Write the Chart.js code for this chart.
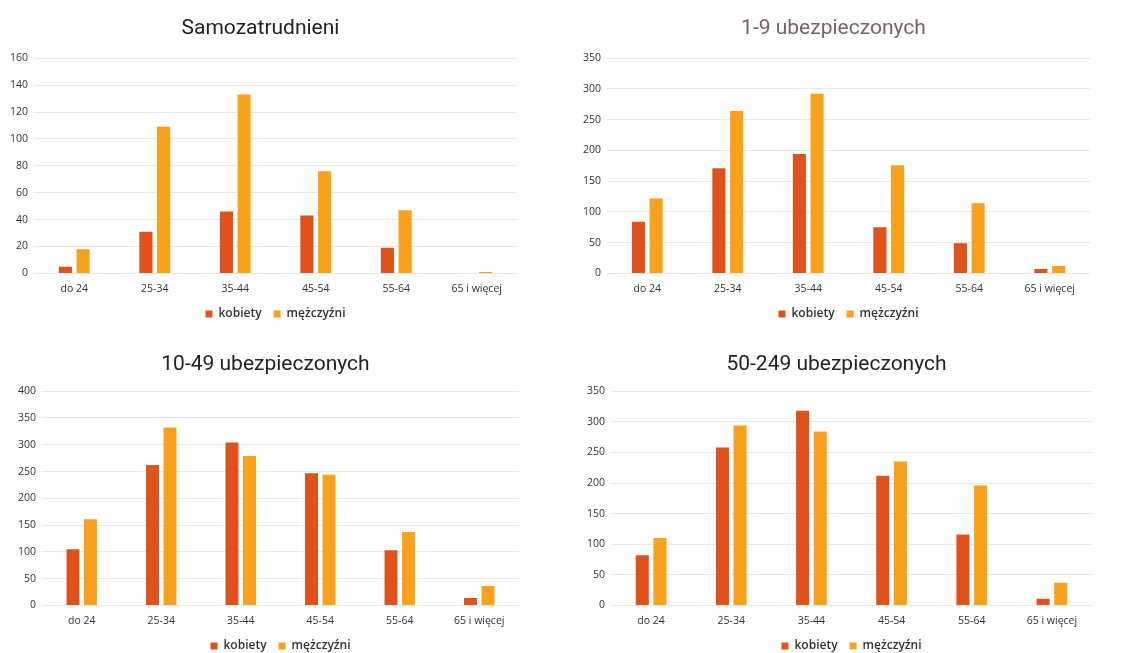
<!DOCTYPE html>
<html>
<head>
<meta charset="utf-8">
<script src="https://cdn.jsdelivr.net/npm/chart.js@4.4.0/dist/chart.umd.min.js"></script>
<style>
  html, body { margin: 0; padding: 0; background: #ffffff; }
  body { width: 1134px; height: 653px; position: relative; overflow: hidden; }
  .cell { position: absolute; }
</style>
</head>
<body>
<div class="cell" style="left:0px;top:0px;width:567px;height:330px;"><canvas id="c1"></canvas></div>
<div class="cell" style="left:567px;top:0px;width:567px;height:330px;"><canvas id="c2"></canvas></div>
<div class="cell" style="left:0px;top:333px;width:567px;height:329px;"><canvas id="c3"></canvas></div>
<div class="cell" style="left:567px;top:333px;width:567px;height:329px;"><canvas id="c4"></canvas></div>
<script>
const categories = ["do 24", "25-34", "35-44", "45-54", "55-64", "65 i więcej"];
const seriesNames = ["kobiety", "mężczyźni"];

const titles = ["Samozatrudnieni", "1-9 ubezpieczonych", "10-49 ubezpieczonych", "50-249 ubezpieczonych"];

const samoKobiety = [5, 31, 46, 43, 19, 0];
const samoMezczyzni = [18, 109, 133, 76, 47, 1];

const u19Kobiety = [84, 171, 194, 75, 49, 7];
const u19Mezczyzni = [122, 264, 292, 176, 114, 12];

const u1049Kobiety = [105, 262, 304, 247, 103, 14];
const u1049Mezczyzni = [161, 332, 279, 244, 137, 36];

const u50249Kobiety = [82, 258, 318, 212, 116, 11];
const u50249Mezczyzni = [110, 294, 284, 235, 196, 37];

const yMax = [160, 350, 400, 350];
const yStep = [20, 50, 50, 50];

const colorK = "#E0521A";
const colorM = "#F9A11B";
const titleColors = ["#222222", "#7a6262", "#222222", "#222222"];

function makeChart(id, idx, kob, mez, pad, titleBottom) {
  const ctx = document.getElementById(id);
  return new Chart(ctx, {
    type: "bar",
    data: {
      labels: categories,
      datasets: [
        { label: seriesNames[0], data: kob, backgroundColor: colorK, categoryPercentage: 0.44, barPercentage: 0.74 },
        { label: seriesNames[1], data: mez, backgroundColor: colorM, categoryPercentage: 0.44, barPercentage: 0.74 }
      ]
    },
    options: {
      responsive: true,
      maintainAspectRatio: false,
      animation: false,
      layout: { padding: pad },
      plugins: {
        title: {
          display: true,
          text: titles[idx],
          color: titleColors[idx],
          font: { family: "Roboto", size: 21, weight: "normal" },
          padding: { top: 4, bottom: titleBottom }
        },
        legend: {
          position: "bottom",
          fullSize: false,
          labels: {
            boxWidth: 7, boxHeight: 7,
            color: "#333333",
            font: { family: "Open Sans", size: 12, weight: "600" },
            padding: 12
          }
        },
        tooltip: { enabled: false }
      },
      scales: {
        x: {
          grid: { display: false },
          border: { display: false },
          ticks: { color: "#333333", font: { family: "Open Sans", size: 10.5 }, padding: 1, maxRotation: 0 }
        },
        y: {
          min: 0, max: yMax[idx],
          grid: { color: "#e8e8e8", drawTicks: false },
          border: { display: false },
          ticks: { stepSize: yStep[idx], color: "#333333", font: { family: "Open Sans", size: 10.5 }, padding: 6 }
        }
      }
    }
  });
}

makeChart("c1", 0, samoKobiety, samoMezczyzni, { left: 4, right: 50, top: 12, bottom: 0 }, 17);
makeChart("c2", 1, u19Kobiety, u19Mezczyzni, { left: 10, right: 44, top: 12, bottom: 0 }, 17);
makeChart("c3", 2, u1049Kobiety, u1049Mezczyzni, { left: 12, right: 48, top: 15, bottom: 0 }, 14);
makeChart("c4", 3, u50249Kobiety, u50249Mezczyzni, { left: 14, right: 42, top: 15, bottom: 0 }, 14);
</script>
</body>
</html>
